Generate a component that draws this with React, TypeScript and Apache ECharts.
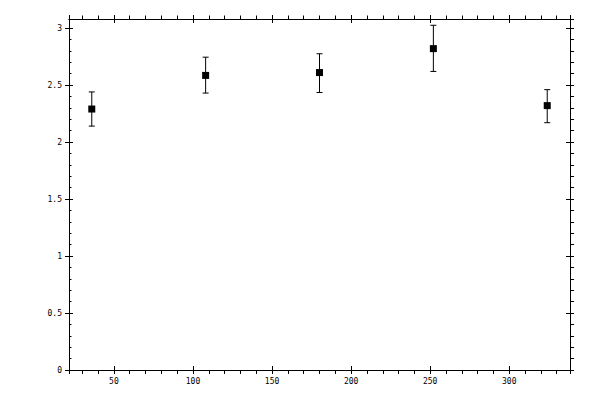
import React, { useEffect, useRef } from 'react';
import * as echarts from 'echarts';

// 数据
const xValues = [36, 108, 180, 252, 324];
const yValues = [2.29, 2.585, 2.61, 2.82, 2.32];
const errLow = [2.14, 2.43, 2.435, 2.62, 2.17];
const errHigh = [2.44, 2.745, 2.775, 3.025, 2.46];

const X_MIN = 21.6;
const X_MAX = 338.4;
const Y_MIN = 0;
const Y_MAX = 3.08;

const labelFont = {
  color: '#000',
  fontSize: 8,
  fontFamily: 'DejaVu Sans Mono'
};

const lineStyle = { color: '#000', width: 1 };

// 每条边两根坐标轴：一根刻度朝外，一根朝内，叠加成穿过轴线的刻度
const makeXAxis = (position: 'top' | 'bottom', inside: boolean, minor: number, labels: boolean) => ({
  type: 'value' as const,
  position,
  min: X_MIN,
  max: X_MAX,
  minInterval: 50,
  maxInterval: 50,
  splitNumber: 6,
  axisLine: { show: true, onZero: false, lineStyle },
  axisTick: { show: true, inside, length: 4, lineStyle },
  minorTick: { show: minor > 0, splitNumber: 5, length: minor, lineStyle },
  splitLine: { show: false },
  axisLabel: {
    show: labels,
    ...labelFont,
    margin: 7,
    showMinLabel: false,
    showMaxLabel: false
  }
});

const makeYAxis = (position: 'left' | 'right', inside: boolean, minor: number, labels: boolean) => ({
  type: 'value' as const,
  position,
  min: Y_MIN,
  max: Y_MAX,
  interval: 0.5,
  axisLine: { show: true, onZero: false, lineStyle },
  axisTick: { show: true, inside, length: 4, lineStyle },
  minorTick: { show: minor > 0, splitNumber: 5, length: minor, lineStyle },
  splitLine: { show: false },
  axisLabel: {
    show: labels,
    ...labelFont,
    margin: 7,
    showMaxLabel: false,
    formatter: (v: number) => String(v)
  }
});

export default function App() {
  const chartRef = useRef<HTMLDivElement>(null);

  useEffect(() => {
    if (!chartRef.current) return;
    const chart = echarts.init(chartRef.current, undefined, { renderer: 'svg' });

    const points = xValues.map((x, i) => [x, yValues[i]]);
    const bars = xValues.map((x, i) => [x, errLow[i], errHigh[i]]);

    const option: echarts.EChartsOption = {
      animation: false,
      backgroundColor: '#fff',
      grid: { left: 69, right: 30, top: 19, bottom: 30 },
      xAxis: [
        makeXAxis('bottom', false, 4, true),
        makeXAxis('bottom', true, 0, false),
        makeXAxis('top', false, 3.5, false),
        makeXAxis('top', true, 0, false)
      ],
      yAxis: [
        makeYAxis('left', false, 0, true),
        makeYAxis('left', true, 2.5, false),
        makeYAxis('right', false, 4, false),
        makeYAxis('right', true, 0, false)
      ],
      series: [
        {
          type: 'custom',
          data: bars,
          encode: { x: 0, y: [1, 2] },
          clip: false,
          renderItem: (params: any, api: any) => {
            const x = api.value(0);
            const lo = api.coord([x, api.value(1)]);
            const hi = api.coord([x, api.value(2)]);
            const w = 3;
            const style = { stroke: '#000', lineWidth: 1 };
            return {
              type: 'group',
              children: [
                { type: 'line', shape: { x1: lo[0], y1: lo[1], x2: hi[0], y2: hi[1] }, style },
                { type: 'line', shape: { x1: hi[0] - w, y1: hi[1], x2: hi[0] + w, y2: hi[1] }, style },
                { type: 'line', shape: { x1: lo[0] - w, y1: lo[1], x2: lo[0] + w, y2: lo[1] }, style }
              ]
            };
          },
          z: 2
        },
        {
          type: 'scatter',
          data: points,
          symbol: 'rect',
          symbolSize: 7,
          itemStyle: { color: '#000', opacity: 1 },
          z: 3
        }
      ]
    };

    chart.setOption(option);

    return () => {
      chart.dispose();
    };
  }, []);

  return (
    <div
      ref={chartRef}
      style={{ position: 'absolute', left: 0, top: 0, width: 600, height: 400 }}
    />
  );
}
